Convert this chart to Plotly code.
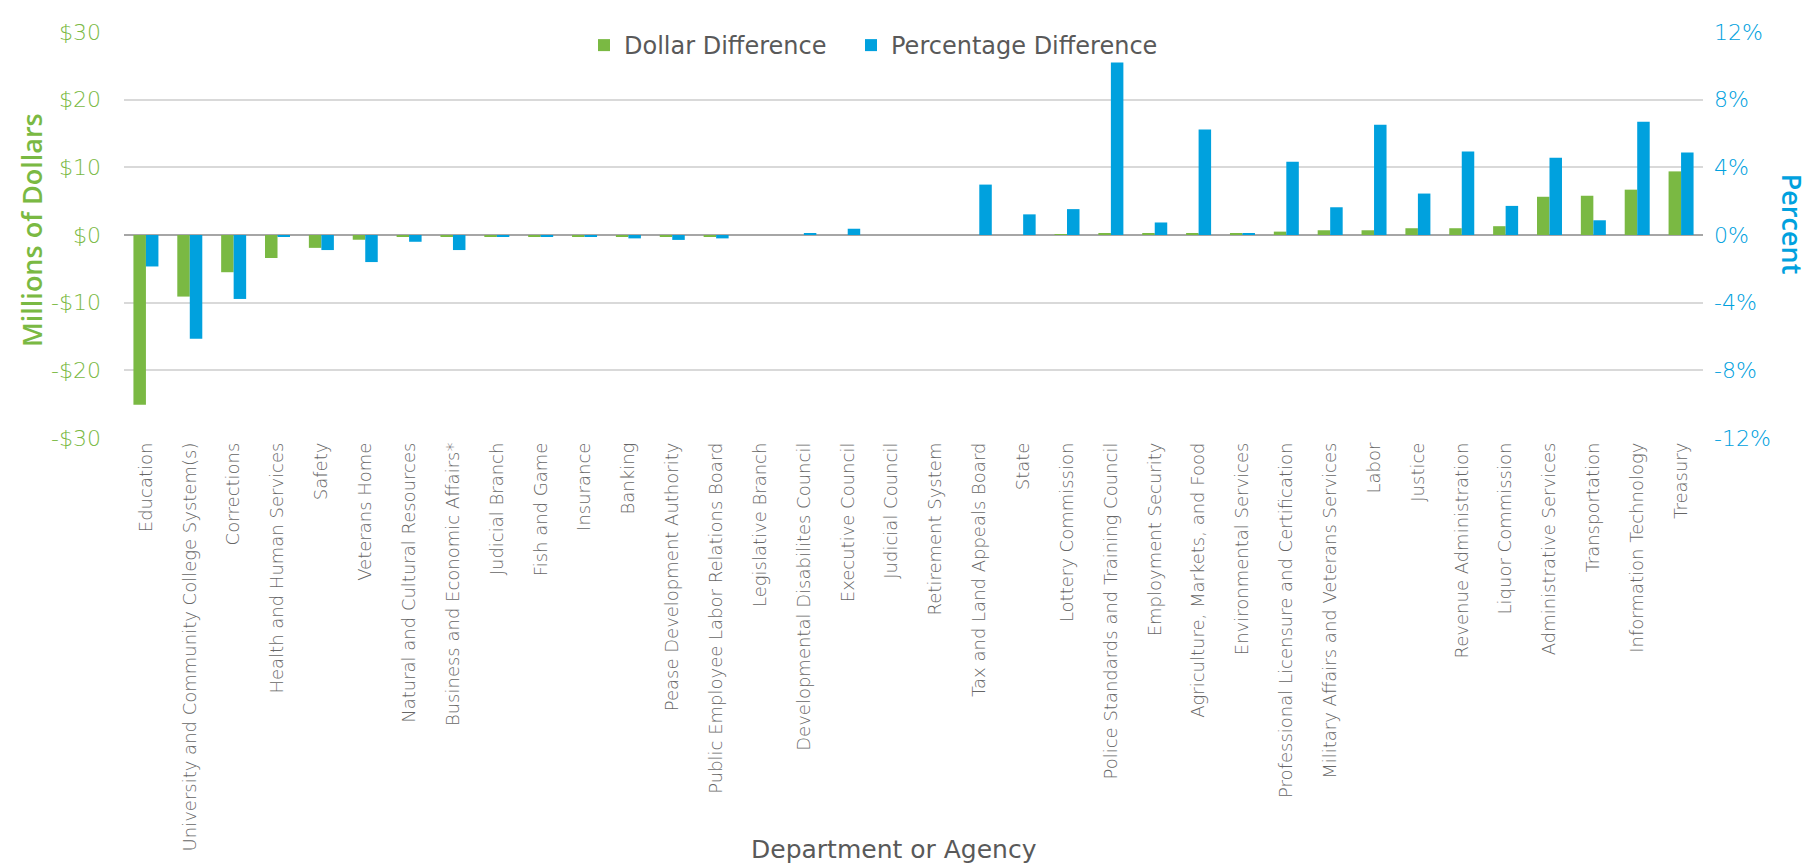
import plotly.graph_objects as go

departments = [
    "Education", "University and Community College System(s)", "Corrections",
    "Health and Human Services", "Safety", "Veterans Home",
    "Natural and Cultural Resources", "Business and Economic Affairs*",
    "Judicial Branch", "Fish and Game", "Insurance", "Banking",
    "Pease Development Authority", "Public Employee Labor Relations Board",
    "Legislative Branch", "Developmental Disabilites Council", "Executive Council",
    "Judicial Council", "Retirement System", "Tax and Land Appeals Board", "State",
    "Lottery Commission", "Police Standards and Training Council",
    "Employment Security", "Agriculture, Markets, and Food",
    "Environmental Services", "Professional Licensure and Certification",
    "Military Affairs and Veterans Services", "Labor", "Justice",
    "Revenue Administration", "Liquor Commission", "Administrative Services",
    "Transportation", "Information Technology", "Treasury",
]

dollar_diff = [
    -25.1, -9.1, -5.5, -3.4, -1.9, -0.7, -0.2, -0.2, -0.2, -0.2, -0.2, -0.15,
    -0.2, -0.2, 0.0, 0.0, 0.0, 0.0, 0.0, 0.0, 0.0, 0.1, 0.3, 0.3, 0.3, 0.3,
    0.5, 0.7, 0.7, 1.0, 1.0, 1.3, 5.65, 5.8, 6.7, 9.4,
]

pct_diff = [
    -1.86, -6.14, -3.78, -0.1, -0.89, -1.6, -0.4, -0.89, -0.1, -0.1, -0.1, -0.2,
    -0.29, -0.2, 0.0, 0.06, 0.37, 0.0, 0.0, 2.98, 1.22, 1.53, 10.2, 0.74, 6.24,
    0.12, 4.33, 1.64, 6.51, 2.45, 4.93, 1.72, 4.56, 0.87, 6.69, 4.87,
]

left_ticks = [-30, -20, -10, 0, 10, 20, 30]
left_labels = ["-$30", "-$20", "-$10", "$0", "$10", "$20", "$30"]
right_ticks = [-12, -8, -4, 0, 4, 8, 12]
right_labels = ["-12%", "-8%", "-4%", "0%", "4%", "8%", "12%"]

GREEN = "#7AB943"
BLUE = "#00A1DE"
GRAY = "#595959"

# plot area in pixels
PL, PR, PT, PB = 116, 1695, 15.7, 430.3
PW, PH = PR - PL, PB - PT


def px_x(x):
    return (x - PL) / PW


def px_y(y):
    return (PB - y) / PH


fig = go.Figure()
fig.add_trace(go.Bar(
    x=departments, y=dollar_diff, name="Dollar Difference",
    marker=dict(color=GREEN, line=dict(width=0)), width=0.285, offset=-0.285,
    yaxis="y", legend="legend",
))
fig.add_trace(go.Bar(
    x=departments, y=pct_diff, name="Percentage Difference",
    marker=dict(color=BLUE, line=dict(width=0)), width=0.285, offset=0,
    yaxis="y2", legend="legend2",
))

legend_font = dict(family="DejaVu Sans", size=24, color=GRAY)

fig.update_layout(
    width=1810, height=865,
    margin=dict(l=PL, r=1810 - PR, t=PT, b=865 - PB),
    plot_bgcolor="white", paper_bgcolor="white",
    showlegend=True,
    legend=dict(
        orientation="h", x=px_x(576), y=px_y(29.5), xanchor="left", yanchor="middle",
        font=legend_font, bgcolor="rgba(0,0,0,0)",
    ),
    legend2=dict(
        orientation="h", x=px_x(843), y=px_y(29.5), xanchor="left", yanchor="middle",
        font=legend_font, bgcolor="rgba(0,0,0,0)",
    ),
    xaxis=dict(
        range=[-0.5, 35.5], tickangle=-90, showgrid=False, ticks="",
        tickfont=dict(family="DejaVu Sans", size=18, color="#666666", weight=200),
        showline=False, ticklabelstandoff=0,
    ),
    yaxis=dict(
        range=[-30, 30], tickvals=left_ticks, ticktext=left_labels,
        tickfont=dict(family="DejaVu Sans", size=22, color=GREEN, weight=200),
        showgrid=True, gridcolor="#D9D9D9", gridwidth=1.5,
        zeroline=True, zerolinecolor="#A6A6A6", zerolinewidth=1.5,
        ticks="", ticklabelstandoff=22,
    ),
    yaxis2=dict(
        range=[-12, 12], tickvals=right_ticks, ticktext=right_labels,
        overlaying="y", side="right", showgrid=False, zeroline=False,
        tickfont=dict(family="DejaVu Sans", size=22, color=BLUE, weight=200),
        ticks="", ticklabelstandoff=10,
    ),
    annotations=[
        dict(text="Millions of Dollars", textangle=-90, xref="paper", yref="paper",
             x=px_x(23), y=px_y(218), xanchor="center", yanchor="middle", showarrow=False,
             font=dict(family="Open Sans", size=27, color=GREEN, weight=600)),
        dict(text="Percent", textangle=90, xref="paper", yref="paper",
             x=px_x(1784), y=px_y(212.5), xanchor="center", yanchor="middle", showarrow=False,
             font=dict(family="Open Sans", size=27, color=BLUE, weight=600)),
        dict(text="Department or Agency", xref="paper", yref="paper",
             x=px_x(886), y=px_y(851), xanchor="center", yanchor="middle",
             showarrow=False,
             font=dict(family="DejaVu Sans", size=25, color=GRAY)),
    ],
)

fig.write_html("out.html")
